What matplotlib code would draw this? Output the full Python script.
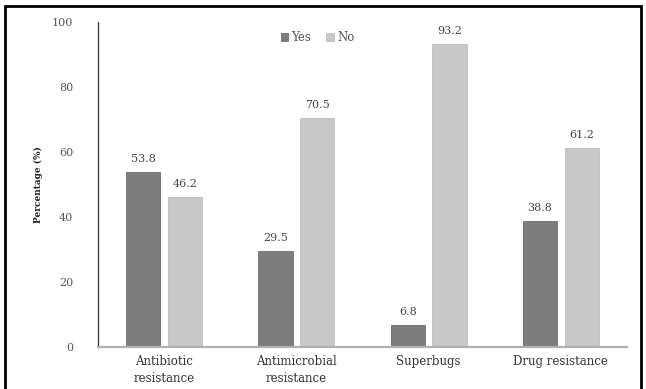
import numpy as np
import matplotlib.pyplot as plt
from matplotlib.patches import Rectangle

categories = ["Antibiotic\nresistance", "Antimicrobial\nresistance", "Superbugs", "Drug resistance"]
yes_vals = [53.8, 29.5, 6.8, 38.8]
no_vals = [46.2, 70.5, 93.2, 61.2]
yticks = [0, 20, 40, 60, 80, 100]

plt.rcParams['font.family'] = ['DejaVu Serif']

fig = plt.figure(figsize=(6.46, 3.89), dpi=100)
ax = fig.add_axes([98 / 646, 1 - 347 / 389, (627 - 98) / 646, (347 - 22) / 389])

x = np.arange(len(categories))
w = 0.26
off = 0.158
b1 = ax.bar(x - off, yes_vals, w, color="#7d7d7d", edgecolor="#6e6e6e", linewidth=0.6, label="Yes")
b2 = ax.bar(x + off, no_vals, w, color="#c8c8c8", edgecolor="#bdbdbd", linewidth=0.6, label="No")

for bars in (b1, b2):
    for r in bars:
        ax.text(r.get_x() + r.get_width() / 2, r.get_height() + 2.4, f"{r.get_height():.1f}",
                ha="center", va="bottom", fontsize=8, color="#444444")

ax.set_xlim(-0.5, len(categories) - 0.5)
ax.set_ylim(0, 100)
ax.set_yticks(yticks)
ax.set_yticklabels([str(t) for t in yticks], fontsize=8, color="#555555")
ax.set_xticks(x)
ax.set_xticklabels(categories, fontsize=8.5, color="#333333", linespacing=1.35)
ax.tick_params(axis="x", length=0, pad=6)
ax.tick_params(axis="y", length=0, pad=18)

for s in ("top", "right"):
    ax.spines[s].set_visible(False)
ax.spines["left"].set_color("#333333")
ax.spines["left"].set_linewidth(0.9)
ax.spines["bottom"].set_color("#b0b0b0")
ax.spines["bottom"].set_linewidth(1.6)

ax.set_ylabel("Percentage (%)", fontsize=6.5, color="#222222", labelpad=6, fontweight="bold")

ax.legend(loc="upper center", bbox_to_anchor=(0.415, 1.005), ncol=2, frameon=False, fontsize=8.5,
          handlelength=0.6, handleheight=0.6, handletextpad=0.3, columnspacing=1.3,
          labelcolor="#555555")

fig.patches.append(Rectangle((5 / 646, -0.05), (641 - 5) / 646, 1.05 - 6 / 389,
                             transform=fig.transFigure, fill=False, edgecolor="black",
                             linewidth=2))

fig.savefig("out.png", dpi=100)
